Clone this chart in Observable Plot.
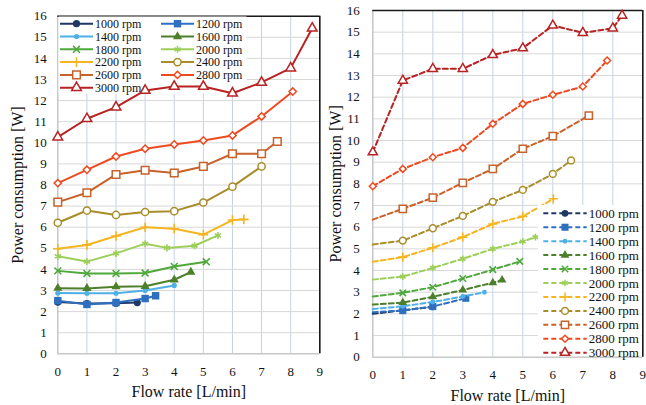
<!DOCTYPE html>
<html><head><meta charset="utf-8">
<script src="https://cdn.jsdelivr.net/npm/d3@7"></script>
<script src="https://cdn.jsdelivr.net/npm/@observablehq/plot@0.6"></script>
<style>
body{margin:0;background:#fff;}
#wrap{position:relative;width:646px;height:405px;overflow:hidden;}
#left,#right{position:absolute;top:0;}
#left{left:0;} #right{left:323px;}
#wrap svg, #wrap svg text{font-family:"Liberation Serif","Times New Roman","DejaVu Serif",serif !important;}
</style></head><body><div id="wrap"><div id="left"></div><div id="right"></div></div>
<script>
const series = ["1000 rpm","1200 rpm","1400 rpm","1600 rpm","1800 rpm","2000 rpm","2200 rpm","2400 rpm","2600 rpm","2800 rpm","3000 rpm"];
const flowTicks = [0,1,2,3,4,5,6,7,8,9];
const powerTicks = [0,1,2,3,4,5,6,7,8,9,10,11,12,13,14,15,16];
const xLabel = "Flow rate [L/min]";
const yLabel = "Power consumption [W]";

// Left panel (solid lines)
const leftFlow = [
  [0,1,2,2.73],
  [0,1,2,3,3.36],
  [0,1,2,3,4],
  [0,1,2,3,4,4.57],
  [0,1,2,3,4,5.1],
  [0,1,2,3,3.75,4.7,5.5],
  [0,1,2,3,4,5,6,6.39],
  [0,1,2,3,4,5,6,7],
  [0,1,2,3,4,5,6,7,7.54],
  [0,1,2,3,4,5,6,7,8.07],
  [0,1,2,3,4,5,6,7,8,8.74]
];
const leftPower = [
  [2.45,2.38,2.4,2.43],
  [2.52,2.34,2.43,2.62,2.75],
  [2.88,2.87,2.87,3.0,3.24],
  [3.11,3.1,3.18,3.2,3.51,3.87],
  [3.93,3.81,3.81,3.83,4.14,4.36],
  [4.62,4.37,4.76,5.22,5.02,5.12,5.61],
  [4.98,5.16,5.58,6.0,5.93,5.65,6.34,6.37],
  [6.21,6.79,6.58,6.72,6.76,7.17,7.92,8.88],
  [7.19,7.63,8.5,8.7,8.57,8.88,9.48,9.48,10.06],
  [8.09,8.72,9.35,9.72,9.92,10.11,10.35,11.25,12.43],
  [10.27,11.14,11.69,12.48,12.67,12.67,12.35,12.86,13.54,15.43]
];
// Right panel (dashed lines)
const rightFlow = [
  [0,1,2],
  [0,1,2,3.1],
  [0,1,2,3,3.72],
  [0,1,2,3,4,4.31],
  [0,1,2,3,4,4.9],
  [0,1,2,3,4,5,5.42],
  [0,1,2,3,4,5,6.02],
  [0,1,2,3,4,5,6,6.61],
  [0,1,2,3,4,5,6,7.2],
  [0,1,2,3,4,5,6,7,7.81],
  [0,1,2,3,4,5,6,7,8,8.31]
];
const rightPower = [
  [2.0,2.17,2.32],
  [2.08,2.15,2.34,2.72],
  [2.22,2.35,2.55,2.8,3.0],
  [2.43,2.52,2.79,3.1,3.44,3.56],
  [2.8,2.97,3.23,3.63,4.04,4.42],
  [3.58,3.72,4.12,4.54,5.0,5.34,5.54],
  [4.4,4.62,5.05,5.54,6.15,6.5,7.31],
  [5.2,5.38,5.95,6.52,7.17,7.72,8.46,9.08],
  [6.35,6.85,7.36,8.05,8.69,9.62,10.2,11.15],
  [7.89,8.69,9.23,9.66,10.77,11.69,12.11,12.49,13.69],
  [9.46,12.77,13.31,13.31,13.95,14.26,15.31,14.97,15.18,15.77]
];

const colors = ["#1f3864","#2e6fc0","#4fb0e8","#4c7f2a","#4fa83a","#9ccf5a","#f5b520","#a88d2a","#c8622a","#ee4a22","#b82222"];
// marker styles: [symbol, kind, radius]
const markers = [
  ["circle","fill",3.6],["square","fill",4.2],["circle","fill",2.6],["triangle","fill",3.4],
  ["times","stroke",3.2],["asterisk","stroke",3.3],["plus","stroke",3.2],
  ["circle","hollow",3.6],["square","hollow",4.3],["diamond2","hollow",3.3],["triangle","hollow",3.6]
];
const d3sym = {circle:d3.symbolCircle, square:d3.symbolSquare, triangle:d3.symbolTriangle, times:d3.symbolTimes||d3.symbolX, asterisk:d3.symbolAsterisk, plus:d3.symbolPlus, diamond2:d3.symbolDiamond2};

const FONT = "Liberation Serif, Times New Roman, DejaVu Serif, serif";

function build(flow, power, cfg) {
  const marks = [
    Plot.gridX({ticks: flowTicks, stroke:"#c4d2e6", strokeOpacity:1}),
    Plot.gridY({ticks: powerTicks, stroke:"#d8d8d8", strokeOpacity:1}),
    Plot.ruleX([0], {stroke:"#bdbdbd"}),
    Plot.ruleY([0], {stroke:"#bdbdbd"}),
    Plot.ruleX([9], {stroke:"#1a1a1a", strokeWidth:1.6}),
    Plot.ruleY([16], {stroke:"#1a1a1a", strokeWidth:1.6}),
    Plot.axisX({ticks: flowTicks, tickSize:0, tickPadding:cfg.xPad, label:null, fontSize:cfg.tickFont, tickFormat: d=>String(d)}),
    Plot.axisY({ticks: powerTicks, tickSize:0, tickPadding:cfg.yPad, label:null, fontSize:cfg.tickFont, tickFormat: d=>String(d)}),
    Plot.text([xLabel], {text:d=>d, frameAnchor:"bottom", lineAnchor:"middle", dy:cfg.xLabDy, fontSize:16}),
    Plot.text([yLabel], {text:d=>d, frameAnchor:"left", textAnchor:"middle", lineAnchor:"middle", rotate:-90, dx:cfg.yLabDx, fontSize:16})
  ];
  series.forEach((s,i) => {
    const rows = flow[i].map((x,j) => ({x, y: power[i][j]}));
    marks.push(Plot.line(rows, {x:"x", y:"y", stroke:colors[i], strokeWidth:2, strokeDasharray:cfg.dash}));
    const [sym, kind, r] = markers[i];
    const pts = rows.filter(d => cfg.markAtZero(i) || d.x > 0);
    marks.push(Plot.dot(pts, {x:"x", y:"y", symbol:sym, r: r*cfg.mScale,
      fill: kind==="fill" ? colors[i] : kind==="hollow" ? "white" : "none",
      stroke: kind==="fill" ? "none" : colors[i],
      strokeWidth: kind==="hollow" ? 1.5 : 1.6}));
  });
  return Plot.plot({
    width:cfg.width, height:405,
    marginLeft:cfg.ml, marginRight:cfg.mr, marginTop:cfg.mt, marginBottom:cfg.mb,
    x:{domain:[0,9]}, y:{domain:[0,16]},
    style:{fontFamily:FONT, color:"#111", background:"transparent", overflow:"visible"},
    marks
  });
}

function addLegend(svg, lg) {
  const firstLine = svg.querySelector('g[aria-label="line"]');
  const g = d3.create("svg:g").attr("font-family", FONT).attr("font-size", lg.font).attr("text-anchor","start");
  g.append("rect").attr("x", lg.bx).attr("y", lg.by).attr("width", lg.bw).attr("height", lg.bh).attr("fill","white");
  series.forEach((s,i) => {
    const col = lg.cols === 2 ? i % 2 : 0;
    const row = lg.cols === 2 ? Math.floor(i/2) : i;
    const x0 = lg.x0 + col*lg.colW;
    const y = lg.y0 + row*lg.rowH;
    g.append("line").attr("x1", x0).attr("x2", x0+lg.lineW).attr("y1", y).attr("y2", y)
      .attr("stroke", colors[i]).attr("stroke-width", 2).attr("stroke-dasharray", lg.dash || null);
    const [sym, kind, r] = markers[i];
    g.append("path").attr("d", d3.symbol(d3sym[sym], Math.PI*r*r*lg.mScale*lg.mScale)())
      .attr("transform", `translate(${x0+lg.lineW/2},${y})`)
      .attr("fill", kind==="fill" ? colors[i] : kind==="hollow" ? "white" : "none")
      .attr("stroke", kind==="fill" ? "none" : colors[i])
      .attr("stroke-width", 1.5);
    g.append("text").attr("x", x0+lg.lineW+2).attr("y", y).attr("dy","0.35em")
      .attr("text-anchor","start").attr("fill","#111").text(s);
  });
  if (lg.before && firstLine) svg.insertBefore(g.node(), firstLine);
  else svg.appendChild(g.node());
}

const left = build(leftFlow, leftPower, {
  width:323, ml:57.3, mr:3.7, mt:15.7, mb:51.7, xPad:13, yPad:11, tickFont:13,
  xLabDy:38.5, yLabDx:-40, dash:null, markAtZero:()=>true, mScale:1
});
addLegend(left, {cols:2, x0:60, colW:101, lineW:33, y0:23.7, rowH:12.8, font:12,
  bx:58.5, by:16.5, bw:188, bh:77, mScale:1, before:true});
document.getElementById("left").appendChild(left);

const right = build(rightFlow, rightPower, {
  width:323, ml:49.3, mr:3.7, mt:10, mb:48.3, xPad:13, yPad:13, tickFont:13,
  xLabDy:38.5, yLabDx:-37, dash:"5,3", markAtZero:i=>i>=9, mScale:0.95
});
addLegend(right, {cols:1, x0:220.3, colW:0, lineW:43.4, y0:213.3, rowH:13.94, font:13,
  bx:215, by:205, bw:103, bh:151, mScale:0.95, dash:"5,3", before:false});
document.getElementById("right").appendChild(right);
</script></body></html>
